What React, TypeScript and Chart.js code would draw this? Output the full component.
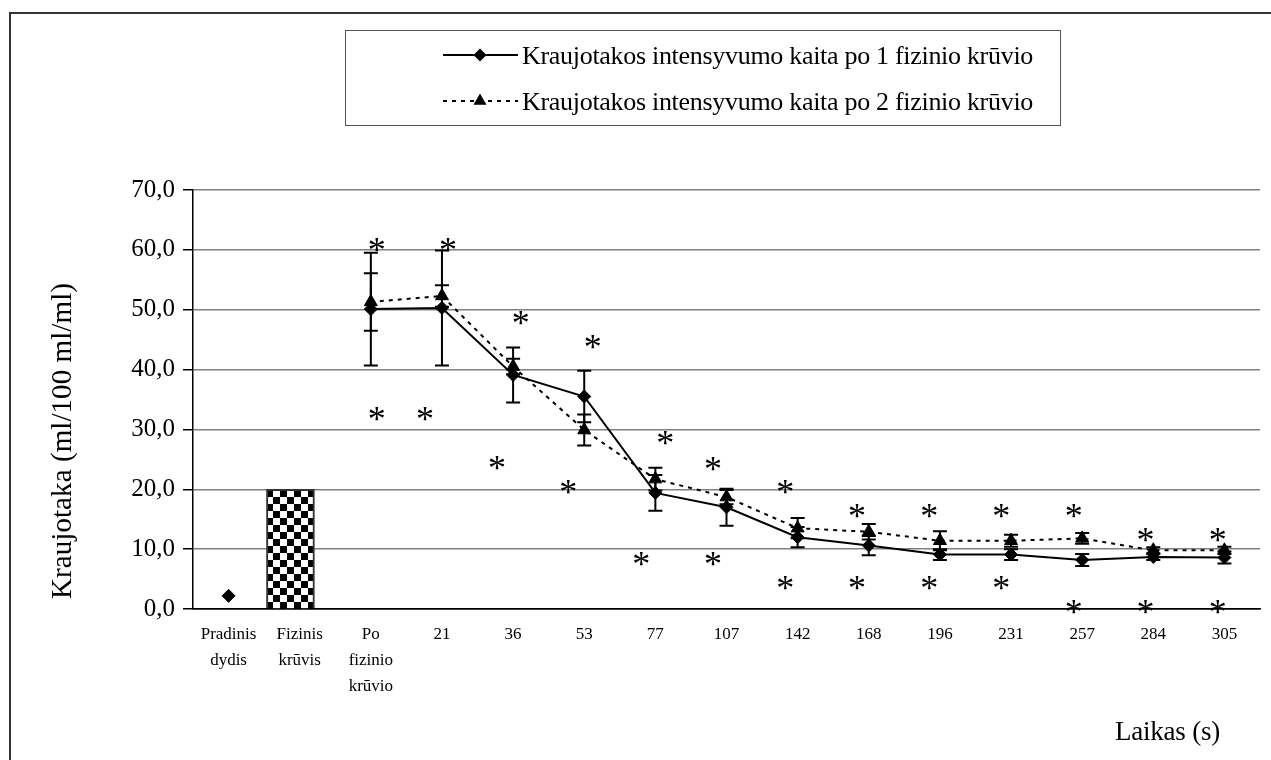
import React, { useEffect, useRef } from 'react';
import { Chart, registerables } from 'chart.js';

Chart.register(...registerables);

// ---------- data ----------
const categories: (string | string[])[] = [
  ['Pradinis', 'dydis'],
  ['Fizinis', 'krūvis'],
  ['Po', 'fizinio', 'krūvio'],
  '21', '36', '53', '77', '107', '142', '168', '196', '231', '257', '284', '305',
];

const series1Label = 'Kraujotakos intensyvumo kaita po 1 fizinio krūvio';
const series2Label = 'Kraujotakos intensyvumo kaita po 2 fizinio krūvio';

const series1Values: (number | null)[] = [2.2, null, 50.1, 50.3, 39.1, 35.5, 19.4, 17.0, 12.0, 10.6, 9.1, 9.1, 8.2, 8.7, 8.6];
const series1Errors: number[] = [0, 0, 9.4, 9.6, 4.6, 4.3, 3.0, 3.1, 1.7, 1.6, 0.9, 0.9, 1.0, 0.5, 1.0];

const series2Values: (number | null)[] = [null, null, 51.3, 52.3, 40.5, 29.9, 21.7, 18.7, 13.5, 12.9, 11.4, 11.4, 11.8, 9.8, 9.8];
const series2Errors: number[] = [0, 0, 4.8, 1.8, 1.3, 2.6, 1.9, 1.2, 1.7, 1.3, 1.6, 1.0, 0.9, 0.5, 0.6];

const loadBarPosition = 0.87;
const loadBarValue = 20;

const asteriskX: number[] = [
  2.083, 3.086, 4.108, 5.121, 6.138, 6.809, 7.825, 8.834, 9.851, 10.864, 11.88, 12.889, 13.906,
  2.083, 2.762, 3.775, 4.774, 5.8, 6.809, 7.825, 8.834, 9.851, 10.864, 11.88, 12.889, 13.906,
];
const asteriskY: number[] = [
  60.8, 60.8, 48.6, 44.6, 28.5, 24.3, 20.3, 16.4, 16.4, 16.4, 16.4, 12.4, 12.4,
  32.6, 32.6, 24.4, 20.4, 8.3, 8.3, 4.4, 4.4, 4.4, 4.4, 0.4, 0.4, 0.4,
];

const yMin = 0;
const yMax = 70;
const yStep = 10;

const yTitle = 'Kraujotaka (ml/100 ml/ml)';
const xTitle = 'Laikas (s)';

// ---------- helpers ----------
const SERIF = '"Liberation Serif", "Times New Roman", serif';

function fitText(ctx: CanvasRenderingContext2D, text: string, x: number, y: number, width: number, font: string) {
  ctx.save();
  ctx.font = font;
  (ctx as any).letterSpacing = '0px';
  const w = ctx.measureText(text).width;
  const ls = (width - w) / text.length;
  (ctx as any).letterSpacing = ls + 'px';
  ctx.textAlign = 'left';
  ctx.fillText(text, x, y);
  ctx.restore();
}

function drawDiamond(ctx: CanvasRenderingContext2D, x: number, y: number, r: number) {
  ctx.beginPath();
  ctx.moveTo(x - r, y);
  ctx.lineTo(x, y - r);
  ctx.lineTo(x + r, y);
  ctx.lineTo(x, y + r);
  ctx.closePath();
  ctx.fill();
}

function drawTriangle(ctx: CanvasRenderingContext2D, x: number, y: number, r: number) {
  ctx.beginPath();
  ctx.moveTo(x, y - r);
  ctx.lineTo(x + r * 0.866, y + r * 0.5);
  ctx.lineTo(x - r * 0.866, y + r * 0.5);
  ctx.closePath();
  ctx.fill();
}

const overlayPlugin = {
  id: 'overlay',
  beforeDraw(chart: any) {
    const ctx = chart.ctx as CanvasRenderingContext2D;
    ctx.save();
    ctx.fillStyle = '#fff';
    ctx.fillRect(0, 0, chart.width, chart.height);
    ctx.strokeStyle = '#333';
    ctx.lineWidth = 2;
    ctx.beginPath();
    ctx.moveTo(10, chart.height);
    ctx.lineTo(10, 13);
    ctx.lineTo(chart.width, 13);
    ctx.stroke();
    ctx.restore();
  },
  afterDatasetsDraw(chart: any) {
    const ctx = chart.ctx as CanvasRenderingContext2D;
    const xs = chart.scales.x;
    const ys = chart.scales.y;
    // error bars
    ctx.save();
    ctx.strokeStyle = '#000';
    ctx.lineWidth = 2;
    const drawErr = (vals: (number | null)[], errs: number[]) => {
      vals.forEach((v, i) => {
        if (v === null || !errs[i]) return;
        const px = xs.getPixelForValue(i);
        const top = ys.getPixelForValue(v + errs[i]);
        const bot = ys.getPixelForValue(v - errs[i]);
        ctx.beginPath();
        ctx.moveTo(px, top);
        ctx.lineTo(px, bot);
        ctx.moveTo(px - 7, top);
        ctx.lineTo(px + 7, top);
        ctx.moveTo(px - 7, bot);
        ctx.lineTo(px + 7, bot);
        ctx.stroke();
      });
    };
    drawErr(series1Values, series1Errors);
    drawErr(series2Values, series2Errors);
    ctx.restore();

    // asterisks
    ctx.save();
    ctx.fillStyle = '#000';
    ctx.font = '36px ' + SERIF;
    ctx.textAlign = 'center';
    ctx.textBaseline = 'alphabetic';
    const m = ctx.measureText('*');
    const off = (m.actualBoundingBoxAscent - m.actualBoundingBoxDescent) / 2;
    asteriskX.forEach((ax, i) => {
      const px = xs.getPixelForValue(ax);
      const py = ys.getPixelForValue(asteriskY[i]);
      ctx.fillText('*', px, py + off);
    });
    ctx.restore();
  },
  afterDraw(chart: any) {
    const ctx = chart.ctx as CanvasRenderingContext2D;
    ctx.save();
    ctx.fillStyle = '#000';
    // legend box
    ctx.lineWidth = 1;
    ctx.strokeStyle = '#555';
    ctx.strokeRect(345.5, 30.5, 715, 95);
    // legend item 1
    ctx.strokeStyle = '#000';
    ctx.lineWidth = 2;
    ctx.beginPath();
    ctx.moveTo(443, 55);
    ctx.lineTo(518, 55);
    ctx.stroke();
    drawDiamond(ctx, 480, 55, 6.5);
    // legend item 2
    ctx.lineWidth = 2;
    ctx.setLineDash([4, 5]);
    ctx.beginPath();
    ctx.moveTo(443, 101);
    ctx.lineTo(518, 101);
    ctx.stroke();
    ctx.setLineDash([]);
    drawTriangle(ctx, 480, 101, 7.5);
    ctx.textBaseline = 'alphabetic';
    fitText(ctx, series1Label, 522, 64, 511, '26px ' + SERIF);
    fitText(ctx, series2Label, 522, 110, 511, '26px ' + SERIF);

    // x title
    fitText(ctx, xTitle, 1115, 740, 105, '27px ' + SERIF);

    // y title
    ctx.translate(63, 441);
    ctx.rotate(-Math.PI / 2);
    ctx.textBaseline = 'middle';
    fitText(ctx, yTitle, -158, 0, 316, '29px ' + SERIF);
    ctx.restore();
  },
};

export default function App() {
  const canvasRef = useRef<HTMLCanvasElement | null>(null);

  useEffect(() => {
    const canvas = canvasRef.current;
    if (!canvas) return;

    const tile = document.createElement('canvas');
    tile.width = 14;
    tile.height = 14;
    const tctx = tile.getContext('2d')!;
    tctx.fillStyle = '#fff';
    tctx.fillRect(0, 0, 14, 14);
    tctx.fillStyle = '#000';
    tctx.fillRect(0, 0, 7, 7);
    tctx.fillRect(7, 7, 7, 7);
    const pattern = canvas.getContext('2d')!.createPattern(tile, 'repeat');

    const toPoints = (vals: (number | null)[]) => vals.map((y, i) => ({ x: i, y }));

    const chart = new Chart(canvas, {
      type: 'line',
      data: {
        datasets: [
          {
            type: 'line',
            label: series1Label,
            data: toPoints(series1Values) as any,
            borderColor: '#000',
            borderWidth: 2,
            pointStyle: 'rectRot',
            pointRadius: 6.5,
            pointBackgroundColor: '#000',
            pointBorderColor: '#000',
            pointBorderWidth: 1,
            spanGaps: false,
            tension: 0,
            order: 1,
          },
          {
            type: 'line',
            label: series2Label,
            data: toPoints(series2Values) as any,
            borderColor: '#000',
            borderWidth: 2,
            borderDash: [4, 5],
            pointStyle: 'triangle',
            pointRadius: 7.5,
            pointBackgroundColor: '#000',
            pointBorderColor: '#000',
            pointBorderWidth: 1,
            spanGaps: false,
            tension: 0,
            order: 2,
          },
          {
            type: 'bar',
            label: 'Fizinis krūvis',
            data: [{ x: loadBarPosition, y: loadBarValue }] as any,
            backgroundColor: pattern as any,
            borderColor: '#333',
            borderWidth: 2,
            barThickness: 48,
            order: 3,
          } as any,
        ],
      },
      options: {
        animation: false,
        responsive: false,
        layout: { padding: { left: 0, top: 190, right: 11, bottom: 0 } },
        plugins: {
          legend: { display: false },
          tooltip: { enabled: false },
        },
        scales: {
          x: {
            type: 'linear',
            min: -0.5,
            max: 14.5,
            offset: false,
            grid: { display: false, drawTicks: false, offset: false },
            border: { display: true, color: '#000', width: 1.5 },
            afterBuildTicks: (axis: any) => {
              axis.ticks = categories.map((_, i) => ({ value: i }));
            },
            afterFit: (scale: any) => {
              scale.height = 151;
            },
            ticks: {
              autoSkip: false,
              maxRotation: 0,
              minRotation: 0,
              padding: 13,
              color: '#000',
              font: { family: SERIF, size: 17, lineHeight: 1.53 },
              callback: (value: any) => {
                const i = Math.round(Number(value));
                return categories[i] ?? '';
              },
            },
          },
          y: {
            min: yMin,
            max: yMax,
            afterFit: (scale: any) => {
              scale.width = 193;
            },
            grid: {
              color: (c: any) => (c.tick && c.tick.value === 0 ? '#000' : '#808080'),
              lineWidth: 1.5,
              tickColor: '#000',
              tickLength: 10,
              drawTicks: true,
            },
            border: { display: true, color: '#000', width: 1.5 },
            ticks: {
              stepSize: yStep,
              padding: 8,
              color: '#000',
              font: { family: SERIF, size: 25 },
              callback: (v: any) => Number(v).toFixed(1).replace('.', ','),
            },
          },
        },
      },
      plugins: [overlayPlugin],
    });

    return () => chart.destroy();
  }, []);

  return (
    <div style={{ position: 'fixed', left: 0, top: 0, width: 1271, height: 760, background: '#fff' }}>
      <canvas ref={canvasRef} width={1271} height={760} style={{ display: 'block' }} />
    </div>
  );
}
